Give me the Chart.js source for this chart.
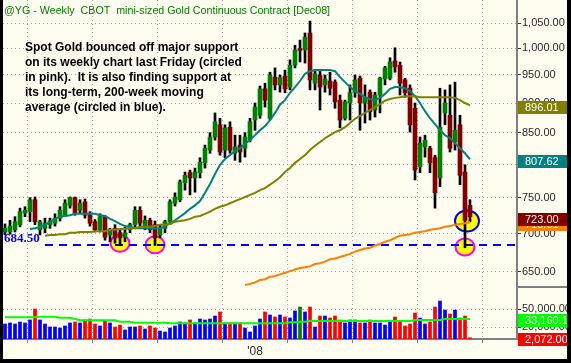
<!DOCTYPE html>
<html>
<head>
<meta charset="utf-8">
<title>@YG Weekly</title>
<script src="https://cdn.jsdelivr.net/npm/chart.js@4.4.1/dist/chart.umd.min.js"></script>
<style>
  html, body { margin: 0; padding: 0; background: #000; }
  #frame { position: relative; width: 571px; height: 363px; background: #000; overflow: hidden; }
  canvas { position: absolute; left: 3px; background: #FFFCF0; }
  #priceChart { top: 0; }
  #volumeChart { top: 288px; }
</style>
</head>
<body>
<div id="frame">
  <canvas id="priceChart" width="564" height="288"></canvas>
  <canvas id="volumeChart" width="564" height="71"></canvas>
</div>
<script>
// weekly bars, oldest first (last bar = week ending Oct 31 2008)
const opens = [
  702, 702, 705, 712, 728, 730, 747, 705, 707, 712,
  714, 721, 725, 739, 750, 732, 744, 725, 716, 705,
  723, 698, 707, 701, 695, 705, 712, 732, 709, 718,
  712, 698, 707, 716, 742, 747, 772, 787, 779, 787,
  802, 822, 843, 863, 822, 859, 817, 830, 825, 838,
  871, 879, 925, 874, 946, 932, 948, 928, 968, 996,
  997, 1030, 935, 950, 932, 939, 937, 905, 874, 900,
  919, 944, 900, 919, 888, 914, 943, 944, 976, 968,
  941, 926, 891, 796, 827, 825, 810, 779, 883, 879,
  835, 863, 788, 739
];
const highs = [
  713, 718, 723, 735, 737, 750, 751, 718, 721, 721,
  727, 737, 747, 751, 751, 747, 748, 730, 719, 727,
  725, 707, 712, 706, 709, 714, 737, 737, 724, 721,
  717, 712, 718, 747, 757, 776, 788, 791, 794, 810,
  830, 850, 883, 874, 863, 868, 846, 846, 850, 874,
  900, 930, 935, 955, 963, 950, 959, 978, 1006, 1016,
  1030, 1054, 959, 959, 950, 955, 941, 914, 905, 932,
  950, 948, 932, 923, 919, 946, 966, 982, 1001, 974,
  944, 932, 900, 843, 846, 828, 814, 926, 923, 932,
  937, 879, 799, 747
];
const lows = [
  698, 699, 702, 709, 723, 716, 712, 698, 701, 707,
  710, 717, 723, 735, 725, 728, 721, 710, 702, 702,
  691, 689, 687, 684, 689, 701, 709, 709, 705, 701,
  684, 694, 701, 712, 738, 744, 761, 754, 758, 779,
  794, 817, 838, 814, 810, 817, 806, 803, 811, 835,
  854, 874, 893, 871, 923, 919, 918, 923, 963, 974,
  972, 923, 923, 888, 919, 914, 891, 858, 871, 871,
  910, 854, 866, 871, 876, 883, 932, 941, 955, 914,
  910, 851, 776, 787, 811, 787, 735, 766, 863, 819,
  822, 769, 681, 716
];
const closes = [
  707, 710, 716, 730, 732, 747, 716, 716, 714, 717,
  721, 732, 742, 750, 728, 742, 725, 714, 705, 723,
  695, 705, 694, 694, 701, 712, 732, 714, 718, 705,
  694, 707, 716, 744, 751, 773, 783, 779, 788, 803,
  825, 843, 868, 819, 858, 822, 827, 819, 843, 868,
  893, 925, 905, 950, 932, 945, 925, 968, 997, 996,
  1022, 941, 952, 928, 943, 926, 902, 871, 902, 918,
  941, 900, 910, 885, 914, 944, 963, 974, 965, 935,
  918, 863, 791, 833, 838, 802, 757, 859, 900, 825,
  854, 783, 718, 723.00
];
const volumes = [
  25000, 26700, 25000, 28300, 26700, 31700, 50000, 31700, 25000, 20000,
  20000, 18300, 21700, 26700, 28300, 26700, 31700, 33300, 25000, 21700,
  30000, 26700, 20000, 23300, 15000, 20000, 20000, 21700, 16700, 21700,
  18300, 13300, 11700, 18300, 21700, 28300, 26700, 31700, 26700, 33300,
  31700, 33300, 38300, 45000, 26700, 26700, 26700, 26700, 18300, 11700,
  21700, 33300, 45000, 40000, 36700, 40000, 36700, 35000, 46700, 53300,
  45000, 53300, 20000, 38300, 38300, 35000, 38300, 31700, 26700, 31700,
  31700, 26700, 26700, 31700, 26700, 26700, 23300, 30000, 36700, 30000,
  21700, 25000, 43300, 35000, 25000, 28300, 53300, 63300, 48300, 41700,
  48300, 35000, 38300, 2072
];
const volumeAvg = [
  36200, 36200, 36200, 36200, 36200, 36200, 36200, 37200, 37200, 37200,
  37200, 35500, 35500, 35500, 33300, 31200, 31200, 31200, 31200, 31200,
  31200, 31200, 31200, 28800, 28800, 28800, 27200, 27200, 27200, 27200,
  27200, 27200, 27200, 26200, 26200, 26200, 26200, 26200, 26200, 26200,
  26200, 26200, 26200, 26200, 26200, 26200, 26200, 26200, 26200, 26200,
  26200, 26200, 26200, 26200, 26200, 26200, 26200, 27800, 27800, 28800,
  28800, 30000, 30000, 30000, 30000, 30000, 30000, 30000, 30000, 30000,
  30000, 30000, 30000, 30000, 30000, 30000, 30000, 30000, 30000, 30000,
  30000, 30000, 31700, 31700, 31700, 31700, 31700, 31700, 33160.18, 33160.18,
  33160.18, 33160.18, 33160.18, 33160.18
];

// moving averages, each begins at the week given by its start index
const tealStart = 5;
const tealAvg = [
  706, 707, 709, 712, 716, 720, 723, 724, 725, 727,
  727, 727, 727, 727, 725, 724, 720, 717, 713, 710,
  709, 707, 707, 707, 707, 707, 707, 710, 714, 718,
  723, 728, 734, 739, 745, 757, 770, 785, 799, 808,
  814, 821, 825, 832, 838, 846, 854, 861, 871, 883,
  897, 905, 918, 928, 939, 952, 957, 959, 959, 959,
  959, 957, 946, 937, 928, 921, 916, 910, 907, 905,
  909, 916, 925, 928, 928, 926, 921, 912, 900, 886,
  874, 864, 854, 846, 841, 833, 825, 817, 807.62
];
const oliveStart = 8;
const oliveAvg = [
  697, 698, 698, 699, 699, 701, 701, 702, 702, 702,
  703, 703, 703, 705, 705, 706, 706, 707, 707, 709,
  709, 709, 710, 712, 712, 713, 716, 717, 718, 720,
  723, 724, 727, 730, 734, 737, 739, 742, 745, 748,
  751, 754, 757, 761, 764, 769, 774, 780, 788, 794,
  802, 808, 814, 822, 829, 835, 841, 846, 851, 854,
  859, 866, 873, 878, 883, 888, 893, 898, 904, 907,
  909, 910, 912, 912, 912, 910, 910, 910, 910, 910,
  910, 910, 909, 905, 900, 896.01
];
const orangeStart = 48;
const orangeAvg = [
  634, 635, 637, 640, 641, 644, 645, 647, 649, 651,
  653, 655, 656, 657, 660, 661, 663, 666, 667, 669,
  671, 673, 676, 678, 680, 681, 684, 686, 689, 691,
  694, 697, 698, 699, 701, 702, 703, 705, 706, 707,
  709, 710, 712, 713, 714, 715.61
];

const priceTicks = [650, 700, 750, 800, 850, 900, 950, 1000, 1050];
const volumeTicks = [20000, 50000];
const gridWeeks = [11, 24, 37, 50, 63, 76, 89];
const yearWeek = 50;
const yearLabel = "'08";
const supportLevel = 684.50;
const pinkMarks = [{week: 23, price: 687}, {week: 30, price: 685}, {week: 92, price: 682}];
const blueMarks = [{week: 92.4, price: 717}];

const titleText = '@YG - Weekly  CBOT  mini-sized Gold Continuous Contract [Dec08]';
const noteLines = [
  'Spot Gold bounced off major support',
  'on its weekly chart last Friday (circled',
  'in pink).  It is also finding support at',
  'its long-term, 200-week moving',
  'average (circled in blue).'
];

const upColor = '#008000';
const downColor = '#800000';
const gridColor = '#A8A8A8';
const axisColor = '#808080';
const labelColor = '#2A2A2A';
const font = 'Arial, "Liberation Sans", sans-serif';

Chart.defaults.font.family = font;
Chart.defaults.animation = false;

function money(v) {
    return Number(v).toLocaleString('en-US', {minimumFractionDigits: 2, maximumFractionDigits: 2});
}

function seriesFrom(start, values) {
    return values.map((v, j) => ({x: start + j, y: v}));
}

function badge(ctx, chart, py, color, text) {
    const left = chart.chartArea.right + 1;
    const top = Math.round(py) - 4;
    ctx.fillStyle = color;
    ctx.fillRect(left, top, chart.width - left, 13);
    ctx.fillStyle = '#FFFFFF';
    ctx.font = '11px ' + font;
    ctx.textAlign = 'left';
    ctx.textBaseline = 'middle';
    ctx.fillText(text, left + 7, top + 7);
}

const xMin = -0.4;
const xMax = 102.4;

function weekAxis(showLabels) {
    return {
        type: 'linear',
        min: xMin,
        max: xMax,
        offset: false,
        afterBuildTicks: s => { s.ticks = gridWeeks.map(v => ({value: v})); },
        ticks: {
            display: showLabels,
            autoSkip: false,
            maxRotation: 0,
            padding: 1,
            color: labelColor,
            font: {size: 12},
            callback: v => (v === yearWeek ? yearLabel : '')
        },
        grid: {color: gridColor, drawTicks: showLabels, tickLength: 4, tickColor: axisColor},
        border: {display: showLabels, color: axisColor, width: 2, dash: [1, 3]},
        afterFit: s => {
            s.height = showLabels ? 20 : 0;
            s.paddingLeft = 0;
            s.paddingRight = 0;
        }
    };
}

const priceDecor = {
    id: 'priceDecor',
    beforeDatasetsDraw(chart) {
        const {ctx, chartArea} = chart;
        const x = chart.scales.x;
        const y = chart.scales.y;
        ctx.save();
        ctx.lineWidth = 2;
        pinkMarks.forEach(m => {
            ctx.beginPath();
            ctx.ellipse(x.getPixelForValue(m.week), y.getPixelForValue(m.price), 9.5, 8.5, 0, 0, Math.PI * 2);
            ctx.fillStyle = '#FFFF00';
            ctx.fill();
            ctx.strokeStyle = '#FF00FF';
            ctx.stroke();
        });
        blueMarks.forEach(m => {
            ctx.beginPath();
            ctx.ellipse(x.getPixelForValue(m.week), y.getPixelForValue(m.price), 12, 10.5, 0, 0, Math.PI * 2);
            ctx.fillStyle = '#FFFF00';
            ctx.fill();
            ctx.strokeStyle = '#0000FF';
            ctx.stroke();
        });
        const sy = Math.round(y.getPixelForValue(supportLevel));
        ctx.setLineDash([8, 6]);
        ctx.strokeStyle = '#0000FF';
        ctx.beginPath();
        ctx.moveTo(42, sy);
        ctx.lineTo(chartArea.right, sy);
        ctx.stroke();
        ctx.restore();
    },
    afterDraw(chart) {
        const {ctx, chartArea} = chart;
        const y = chart.scales.y;
        ctx.save();

        ctx.fillStyle = '#008000';
        ctx.font = '10.7px ' + font;
        ctx.textAlign = 'left';
        ctx.textBaseline = 'middle';
        ctx.fillText(titleText, 1, 11);

        ctx.fillStyle = '#000000';
        ctx.font = 'bold 12px ' + font;
        noteLines.forEach((line, i) => ctx.fillText(line, 22, 48 + i * 15));

        ctx.fillStyle = '#0000FF';
        ctx.font = 'bold 13px "Liberation Serif", "Times New Roman", serif';
        ctx.fillText(money(supportLevel), 1, Math.round(y.getPixelForValue(supportLevel)) - 6);

        badge(ctx, chart, y.getPixelForValue(oliveAvg[oliveAvg.length - 1]), '#808000', money(oliveAvg[oliveAvg.length - 1]));
        badge(ctx, chart, y.getPixelForValue(tealAvg[tealAvg.length - 1]), '#008080', money(tealAvg[tealAvg.length - 1]));
        badge(ctx, chart, y.getPixelForValue(orangeAvg[orangeAvg.length - 1]), '#FF8000', money(orangeAvg[orangeAvg.length - 1]));
        badge(ctx, chart, y.getPixelForValue(closes[closes.length - 1]), '#800000', money(closes[closes.length - 1]));

        // separator between the price and volume axis panels
        ctx.strokeStyle = axisColor;
        ctx.lineWidth = 2;
        ctx.beginPath();
        ctx.moveTo(chartArea.right, chart.height - 1);
        ctx.lineTo(chart.width, chart.height - 1);
        ctx.stroke();
        ctx.restore();
    }
};

new Chart(document.getElementById('priceChart'), {
    type: 'bar',
    data: {
        datasets: [
            {type: 'line', data: seriesFrom(orangeStart, orangeAvg), borderColor: '#FF8000', borderWidth: 2, pointRadius: 0, order: 0},
            {type: 'line', data: seriesFrom(oliveStart, oliveAvg), borderColor: '#808000', borderWidth: 2, pointRadius: 0, order: 0},
            {type: 'line', data: seriesFrom(tealStart, tealAvg), borderColor: '#008080', borderWidth: 2, pointRadius: 0, order: 0},
            {
                data: opens.map((o, i) => ({x: i, y: [o, closes[i]]})),
                backgroundColor: c => (closes[c.dataIndex] > opens[c.dataIndex] ? upColor : downColor),
                barThickness: 4,
                minBarLength: 2,
                grouped: false,
                order: 1
            },
            {
                data: lows.map((l, i) => ({x: i, y: [l, highs[i]]})),
                backgroundColor: '#000000',
                barThickness: 2,
                grouped: false,
                order: 2
            }
        ]
    },
    options: {
        responsive: false,
        events: [],
        layout: {padding: 0},
        plugins: {legend: {display: false}, tooltip: {enabled: false}},
        scales: {
            x: weekAxis(false),
            y: {
                type: 'logarithmic',
                position: 'right',
                min: 630.2,
                max: 1097.6,
                afterBuildTicks: s => { s.ticks = priceTicks.map(v => ({value: v})); },
                ticks: {color: labelColor, font: {size: 11}, padding: 1, autoSkip: false, callback: v => money(v)},
                grid: {color: gridColor, tickLength: 4, tickColor: '#333333'},
                border: {display: true, color: axisColor, width: 2, dash: [1, 3]},
                afterFit: s => { s.width = 50; s.paddingTop = 0; s.paddingBottom = 0; }
            }
        }
    },
    plugins: [priceDecor]
});

const volumeDecor = {
    id: 'volumeDecor',
    afterDraw(chart) {
        const {ctx} = chart;
        const y = chart.scales.y;
        ctx.save();
        const avg = volumeAvg[volumeAvg.length - 1];
        const last = volumes[volumes.length - 1];
        badge(ctx, chart, y.getPixelForValue(avg) - 1, '#00FF00', money(avg));
        badge(ctx, chart, y.getPixelForValue(last) - 1, '#FF0000', money(last));
        ctx.restore();
    }
};

new Chart(document.getElementById('volumeChart'), {
    type: 'bar',
    data: {
        datasets: [
            {type: 'line', data: seriesFrom(0, volumeAvg), borderColor: '#00FF00', borderWidth: 2, pointRadius: 0, order: 0},
            {
                data: seriesFrom(0, volumes),
                backgroundColor: c => {
                    const i = c.dataIndex;
                    if (closes[i] > opens[i]) return '#0000FF';
                    if (closes[i] < opens[i]) return '#FF0000';
                    return '#008000';
                },
                barThickness: 3,
                order: 1
            }
        ]
    },
    options: {
        responsive: false,
        events: [],
        layout: {padding: 0},
        plugins: {legend: {display: false}, tooltip: {enabled: false}},
        scales: {
            x: weekAxis(true),
            y: {
                position: 'right',
                min: 0,
                max: 85000,
                afterBuildTicks: s => { s.ticks = volumeTicks.map(v => ({value: v})); },
                ticks: {color: labelColor, font: {size: 11}, padding: 1, autoSkip: false, callback: v => money(v)},
                grid: {color: gridColor, tickLength: 4, tickColor: '#333333'},
                border: {display: true, color: axisColor, width: 2, dash: [1, 3]},
                afterFit: s => { s.width = 50; s.paddingTop = 0; s.paddingBottom = 0; }
            }
        }
    },
    plugins: [volumeDecor]
});
</script>
</body>
</html>
